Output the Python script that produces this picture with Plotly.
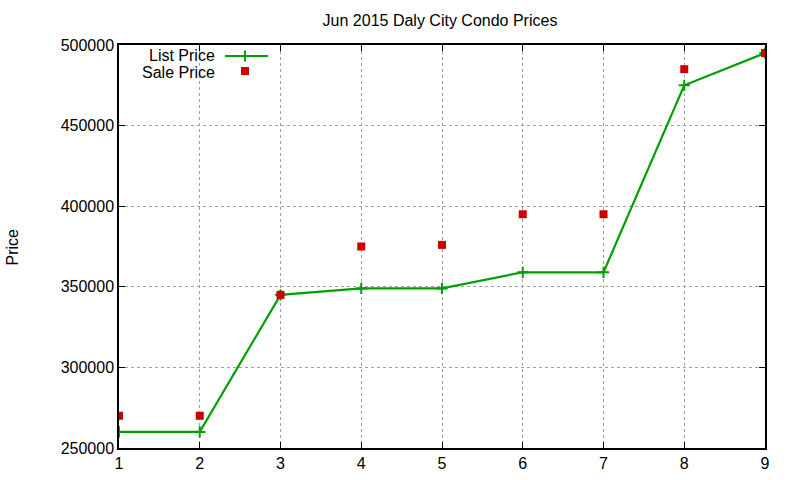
import plotly.graph_objects as go

months = [1, 2, 3, 4, 5, 6, 7, 8, 9]
list_price = [260000, 260000, 345000, 349000, 349000, 359000, 359000, 475000, 495000]
sale_price = [270000, 270000, 345000, 375000, 376000, 395000, 395000, 485000, 495000]

green = '#00a000'
red = '#cc0000'
font = 'Liberation Sans, Arial, sans-serif'

fig = go.Figure()
fig.add_trace(go.Scatter(
    x=months, y=list_price, mode='lines+markers', name='List Price',
    line=dict(color=green, width=2.2),
    marker=dict(symbol='cross-thin', size=8, line=dict(color=green, width=2)),
    showlegend=False
))
fig.add_trace(go.Scatter(
    x=months, y=sale_price, mode='markers', name='Sale Price',
    marker=dict(symbol='square', size=8, color=red),
    showlegend=False
))

# gnuplot-style key (text left, sample right), drawn on a hidden pixel-ish axis
fig.add_trace(go.Scatter(
    x=[106, 126, 149], y=[392, 392, 392], mode='lines',
    line=dict(color=green, width=2.2), xaxis='x2', yaxis='y2',
    showlegend=False, hoverinfo='skip'
))
fig.add_trace(go.Scatter(
    x=[126], y=[392], mode='markers', xaxis='x2', yaxis='y2',
    marker=dict(symbol='cross-thin', size=8, line=dict(color=green, width=2)),
    showlegend=False, hoverinfo='skip'
))
fig.add_trace(go.Scatter(
    x=[126], y=[377], mode='markers', xaxis='x2', yaxis='y2',
    marker=dict(symbol='square', size=8, color=red),
    showlegend=False, hoverinfo='skip'
))
for label, yy in [('List Price', 393), ('Sale Price', 376)]:
    fig.add_annotation(x=98, y=yy, xref='x2', yref='y2', text=label,
                       showarrow=False, xanchor='right', yanchor='middle',
                       font=dict(family=font, size=16, color='black'))

fig.add_annotation(x=-0.1641, y=0.5, xref='paper', yref='paper', text='Price',
                   textangle=-90, showarrow=False, xanchor='center', yanchor='middle',
                   font=dict(family=font, size=16, color='black'))

axis_style = dict(
    showline=True, linecolor='black', linewidth=1.5, mirror='ticks',
    ticks='inside', ticklen=6, tickcolor='black', tickwidth=1,
    showgrid=True, gridcolor='#a0a0a0', griddash='dot', gridwidth=1,
    zeroline=False, automargin=False,
    tickfont=dict(family=font, size=16, color='black'),
)
fig.update_layout(
    width=800, height=480,
    plot_bgcolor='white', paper_bgcolor='white',
    margin=dict(l=119, r=35, t=45, b=32),
    title=dict(text='Jun 2015 Daly City Condo Prices', x=0.55, xanchor='center',
               y=1 - 20 / 480, yanchor='middle',
               font=dict(family=font, size=16, color='black')),
    xaxis=dict(range=[1, 9], tickvals=months, **axis_style),
    yaxis=dict(range=[250000, 500000], dtick=50000, tickformat='d', **axis_style),
    xaxis2=dict(range=[0, 646], domain=[0, 1], visible=False, overlaying='x'),
    yaxis2=dict(range=[0, 403], domain=[0, 1], visible=False, overlaying='y'),
)
# drop the default 8px page margin so the figure fills the window
fig.write_html('out.html', config={'displayModeBar': False},
               post_script="document.body.style.margin='0';")
